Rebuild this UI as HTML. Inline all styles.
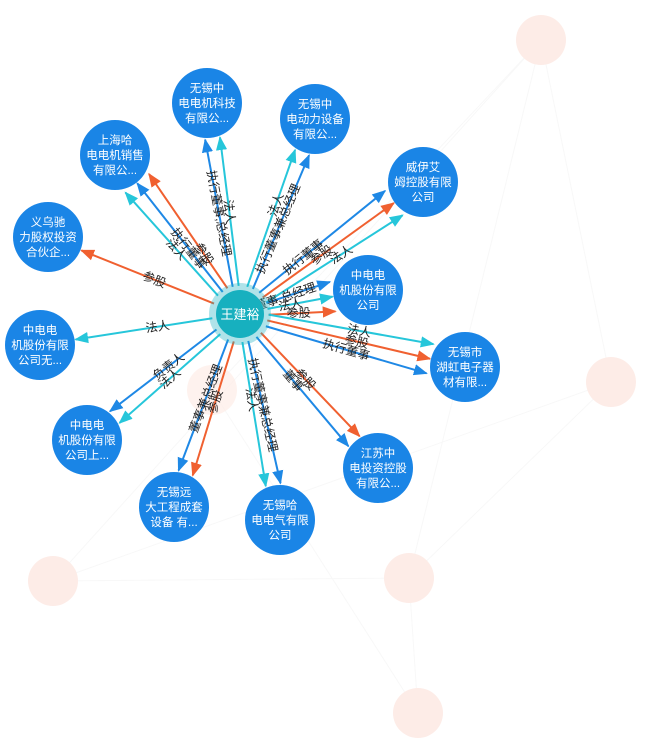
<!DOCTYPE html>
<html><head><meta charset="utf-8"><style>
html,body{margin:0;padding:0;background:#fff;width:651px;height:754px;overflow:hidden}
svg{display:block}
text{font-family:"Liberation Sans","Noto Sans CJK SC",sans-serif}
</style></head><body>
<svg id="s" width="651" height="754" xmlns="http://www.w3.org/2000/svg">
<defs>
<marker id="m0" viewBox="0 0 10 10" refX="9" refY="5" markerWidth="7" markerHeight="7" orient="auto"><path d="M0,1 L10,5 L0,9 z" fill="#1e88e5"/></marker>
<marker id="m1" viewBox="0 0 10 10" refX="9" refY="5" markerWidth="7" markerHeight="7" orient="auto"><path d="M0,1 L10,5 L0,9 z" fill="#26c6da"/></marker>
<marker id="m2" viewBox="0 0 10 10" refX="9" refY="5" markerWidth="7" markerHeight="7" orient="auto"><path d="M0,1 L10,5 L0,9 z" fill="#f06030"/></marker>
</defs>
<g stroke="#f8f8f8" stroke-width="1">
<line x1="541" y1="40" x2="409" y2="578"/><line x1="541" y1="40" x2="212" y2="390"/><line x1="541" y1="40" x2="53" y2="581"/>
<line x1="611" y1="382" x2="409" y2="578"/><line x1="611" y1="382" x2="53" y2="581"/><line x1="409" y1="578" x2="418" y2="713"/>
<line x1="53" y1="581" x2="409" y2="578"/><line x1="212" y1="390" x2="418" y2="713"/><line x1="541" y1="40" x2="611" y2="382"/>
</g>
<g fill="#fdece7">
<circle cx="541" cy="40" r="25"/><circle cx="611" cy="382" r="25"/><circle cx="53" cy="581" r="25"/>
<circle cx="409" cy="578" r="25"/><circle cx="418" cy="713" r="25"/><circle cx="212" cy="390" r="25" opacity="0.7"/>
</g>
<g id="edges"></g>
<g id="nodes"></g>
<circle cx="240" cy="314" r="31" fill="#1ab0c0" opacity="0.35"/>
<circle cx="240" cy="314" r="24" fill="#17b0bf"/>
<text x="240" y="319" font-size="13" fill="#fff" text-anchor="middle">王建裕</text>
</svg>
<script>
var C=[240,314],NS="http://www.w3.org/2000/svg";
var col=["#1e88e5","#26c6da","#f06030"];
var nodes=[
[207,103,["无锡中","电电机科技","有限公..."],[["执行董事,总经理",0,0.5],["法人",1,0.5]]],
[315,119,["无锡中","电动力设备","有限公..."],[["法人",1,0.6],["执行董事兼总经理",0,0.45]]],
[115,155,["上海哈","电电机销售","有限公..."],[["法人",1,0.45],["执行董事",0,0.4],["参股",2,0.3]]],
[423,182,["威伊艾","姆控股有限","公司"],[["执行董事",0,0.35],["参股",2,0.45],["法人",1,0.55]]],
[48,237,["义乌驰","力股权投资","合伙企..."],[["参股",2,0.45]]],
[368,290,["中电电","机股份有限","公司"],[["董事,总经理",0,0.3],["法人",1,0.35],["参股",2,0.45]]],
[40,345,["中电电","机股份有限","公司无..."],[["法人",1,0.4]]],
[465,367,["无锡市","湖虹电子器","材有限..."],[["法人",1,0.55],["参股",2,0.55],["执行董事",0,0.5]]],
[87,440,["中电电","机股份有限","公司上..."],[["法人",1,0.5],["负责人",0,0.45]]],
[378,468,["江苏中","电投资控股","有限公..."],[["参股",2,0.45],["董事",0,0.4]]],
[174,507,["无锡远","大工程成套","设备 有..."],[["参股",2,0.45],["董事兼总经理",0,0.45]]],
[280,520,["无锡哈","电电气有限","公司"],[["执行董事兼总经理",0,0.45],["法人",1,0.4]]]
];
var E=document.getElementById("edges"),N=document.getElementById("nodes");
function el(t,a,p){var e=document.createElementNS(NS,t);for(var k in a)e.setAttribute(k,a[k]);p.appendChild(e);return e;}
nodes.forEach(function(n){
 var dx=n[0]-C[0],dy=n[1]-C[1],L=Math.sqrt(dx*dx+dy*dy),ux=dx/L,uy=dy/L,px=-uy,py=ux;
 var k=n[3].length;
 n[3].forEach(function(e,i){
  var o=(i-(k-1)/2)*15;
  var x1=C[0]+ux*28+px*o*0.4,y1=C[1]+uy*28+py*o*0.4,x2=n[0]-ux*36+px*o,y2=n[1]-uy*36+py*o;
  el("line",{x1:x1,y1:y1,x2:x2,y2:y2,stroke:col[e[1]],"stroke-width":2,"marker-end":"url(#m"+e[1]+")"},E);
  var f=e[2],lx=x1+(x2-x1)*f,ly=y1+(y2-y1)*f;
  var a=Math.atan2(y2-y1,x2-x1)*180/Math.PI;if(a>90)a-=180;if(a<-90)a+=180;
  var t=el("text",{x:lx,y:ly+4,"font-size":12,fill:"#222","text-anchor":"middle",transform:"rotate("+a+" "+lx+" "+ly+")"},E);
  t.textContent=e[0];
 });
 el("circle",{cx:n[0],cy:n[1],r:35,fill:"#1a85e6"},N);
 n[2].forEach(function(s,i){var t=el("text",{x:n[0],y:n[1]-11+i*15,"font-size":11.5,fill:"#fff","text-anchor":"middle"},N);t.textContent=s;});
});
</script>
</body></html>
